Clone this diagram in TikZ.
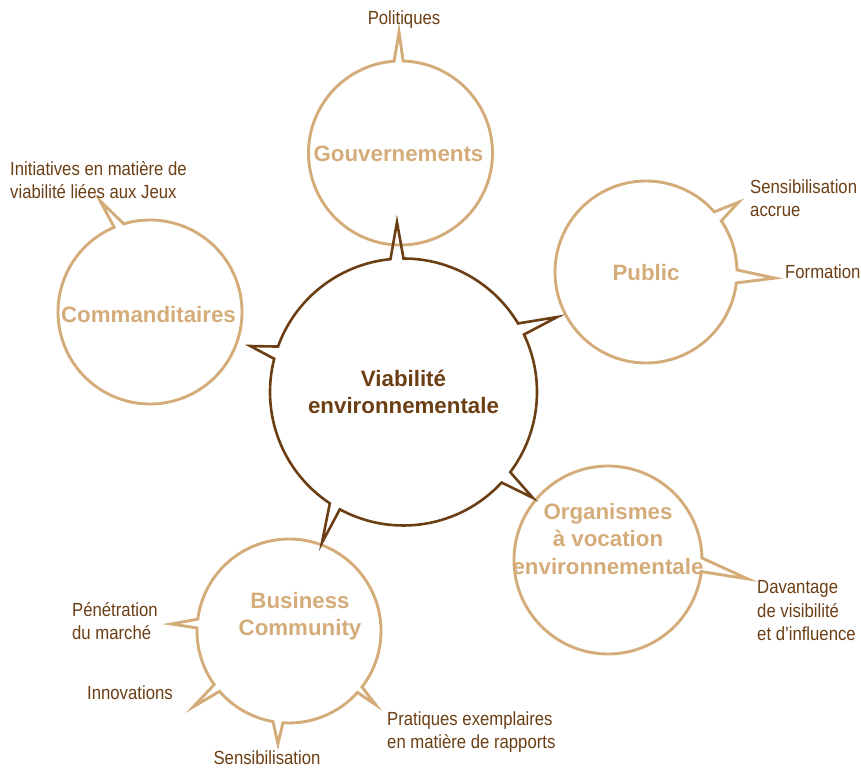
\documentclass[tikz,border=0pt]{standalone}
\usepackage{fontspec}
\setmainfont{Liberation Sans}
\newfontfamily\labfont[FakeStretch=0.88]{Liberation Sans}
\definecolor{brownD}{HTML}{6B3E14}
\definecolor{tanC}{HTML}{D4AC7A}
\tikzset{
 big/.style={line join=miter},
 core/.style={big, line width=2.6pt, draw=brownD},
 sat/.style={big, line width=2.9pt, draw=tanC},
 title/.style={font=\fontsize{22.3}{27.5}\selectfont\bfseries, text=tanC, align=center, inner sep=0pt},
 ctitle/.style={title, text=brownD},
 lab/.style={font=\labfont\fontsize{19}{23.5}\selectfont, text=brownD, align=left, inner sep=0pt},
}
\begin{document}
\begin{tikzpicture}[x=1pt,y=1pt]
\useasboundingbox (0,0) rectangle (861,769);
\coordinate (C) at (403.5,377);
\coordinate (G) at (400.5,616);
\coordinate (U) at (646,497);
\coordinate (K) at (150,457);
\coordinate (O) at (608,209);
\coordinate (B) at (289,138);
% satellites
\draw[sat] ([shift={(94:92pt)}]G) arc[start angle=94,end angle=448.4,radius=92pt] -- ([shift={(90.7:121pt)}]G) -- cycle;
\draw[sat] ([shift={(1.3:91pt)}]U) arc[start angle=1.3,end angle=34.2,radius=91pt] -- ([shift={(37:116pt)}]U) -- ([shift={(41.4:91pt)}]U) arc[start angle=41.4,end angle=353.1,radius=91pt] -- ([shift={(-2.7:129pt)}]U) -- cycle;
\draw[sat] ([shift={(112.9:92pt)}]K) arc[start angle=112.9,end angle=466.6,radius=92pt] -- ([shift={(114.2:122pt)}]K) -- cycle;
\draw[sat] ([shift={(1.2:94pt)}]O) arc[start angle=1.2,end angle=352.9,radius=94pt] -- ([shift={(-7.7:141pt)}]O) -- cycle;
\draw[sat] ([shift={(-93.8:92pt)}]B) arc[start angle=-93.8,end angle=-41.9,radius=92pt] -- ([shift={(-40.4:114pt)}]B) -- ([shift={(-37.5:92pt)}]B) arc[start angle=-37.5,end angle=172.6,radius=92pt] -- ([shift={(176.6:118pt)}]B) -- ([shift={(178.1:92pt)}]B) arc[start angle=178.1,end angle=215.6,radius=92pt] -- ([shift={(218.4:122pt)}]B) -- ([shift={(221:92pt)}]B) arc[start angle=221,end angle=260,radius=92pt] -- ([shift={(-95.6:113.5pt)}]B) -- cycle;
% core
\draw[core] ([shift={(-118.5:133.5pt)}]C) arc[start angle=-118.5,end angle=-42.7,radius=133.5pt] -- ([shift={(-39.3:167pt)}]C) -- ([shift={(-36.9:133.5pt)}]C) arc[start angle=-36.9,end angle=25.5,radius=133.5pt] -- ([shift={(26:171pt)}]C) -- ([shift={(30.9:133.5pt)}]C) arc[start angle=30.9,end angle=90,radius=133.5pt] -- ([shift={(92.2:170pt)}]C) -- ([shift={(95.6:133.5pt)}]C) arc[start angle=95.6,end angle=160.1,radius=133.5pt] -- ([shift={(163.3:160pt)}]C) -- ([shift={(165.6:133.5pt)}]C) arc[start angle=165.6,end angle=236.5,radius=133.5pt] -- ([shift={(-118.4:171.6pt)}]C) -- cycle;
% titles
\node[ctitle] (tcore) at (403.5,377) {Viabilité\\environnementale};
\node[title] (tgouv) at (398.5,615) {Gouvernements};
\node[title] (tpub) at (646,496) {Public};
\node[title] (tcom) at (148.5,454) {Commanditaires};
\node[title] (torg) at (608,230) {Organismes\\à vocation\\environnementale};
\node[title] (tbus) at (300,153) {Business\\Community};
% labels
\node[lab] (lpol) at (404,749) {Politiques};
\node[lab, anchor=west] (lini) at (10,589) {Initiatives en matière de\\viabilité liées aux Jeux};
\node[lab, anchor=west] (lsen) at (750,571) {Sensibilisation\\accrue};
\node[lab, anchor=west] (lfor) at (785,497) {Formation};
\node[lab, anchor=west] (ldav) at (757,158) {Davantage\\de visibilité\\et d’influence};
\node[lab, anchor=west] (lpen) at (72,148) {Pénétration\\du marché};
\node[lab, anchor=west] (linn) at (87,76) {Innovations};
\node[lab] (lsb) at (267,11.5) {Sensibilisation};
\node[lab, anchor=west] (lpra) at (387,37) {Pratiques exemplaires\\en matière de rapports};
\end{tikzpicture}
\end{document}
